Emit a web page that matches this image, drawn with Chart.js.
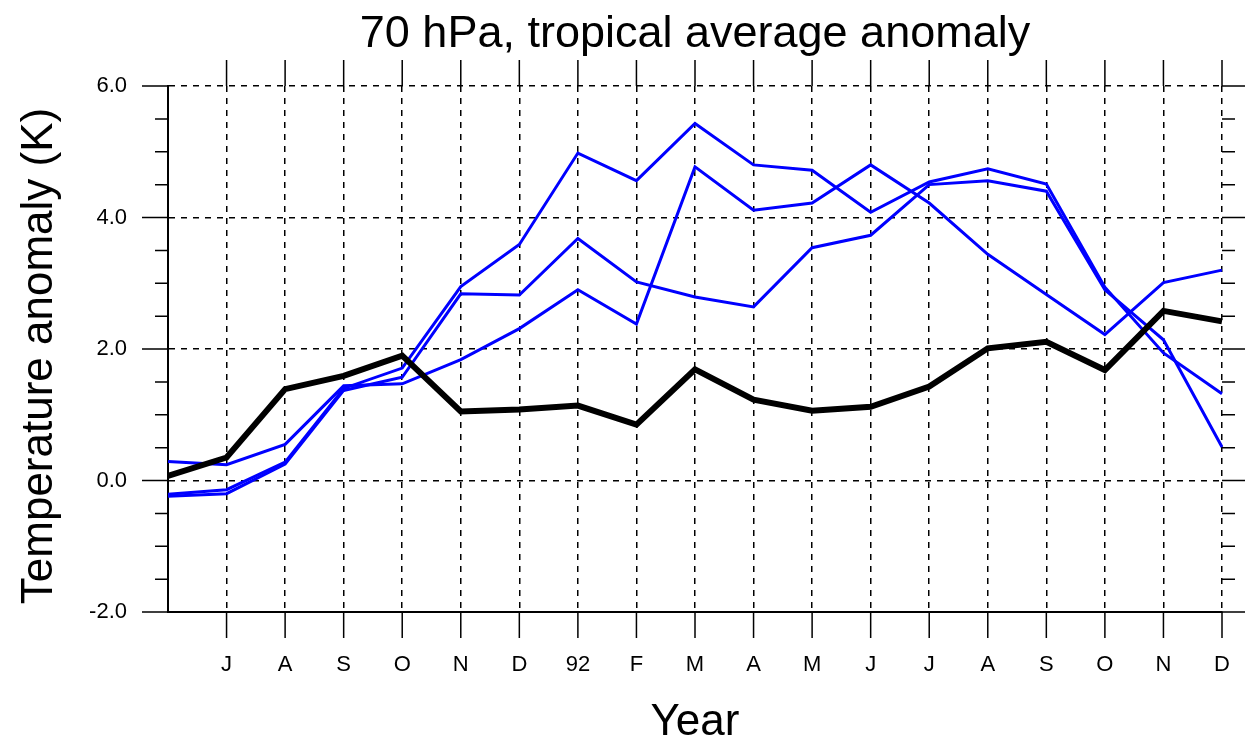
<!DOCTYPE html>
<html>
<head>
<meta charset="utf-8">
<script src="https://cdn.jsdelivr.net/npm/chart.js@4/dist/chart.umd.min.js"></script>
<style>
  html, body { margin: 0; padding: 0; background: #fff; }
  #wrap { width: 1245px; height: 742px; }
</style>
</head>
<body>
<div id="wrap"><canvas id="chart" width="1245" height="742"></canvas></div>
<script>
// May 1991 .. Dec 1992, first point has no label
const months = ['', 'J', 'A', 'S', 'O', 'N', 'D', '92', 'F', 'M', 'A', 'M', 'J', 'J', 'A', 'S', 'O', 'N', 'D'];

const observed = [0.07, 0.35, 1.39, 1.59, 1.90, 1.05, 1.08, 1.14, 0.85, 1.69, 1.23, 1.06, 1.12, 1.43, 2.01, 2.11, 1.68, 2.58, 2.42];
const runA = [-0.21, -0.14, 0.28, 1.40, 1.71, 2.95, 3.59, 4.98, 4.56, 5.43, 4.80, 4.72, 4.08, 4.54, 4.74, 4.51, 2.94, 1.94, 1.32];
const runB = [-0.24, -0.20, 0.25, 1.37, 1.57, 2.84, 2.82, 3.68, 3.02, 2.79, 2.64, 3.54, 3.73, 4.50, 4.56, 4.40, 2.90, 2.14, 0.51];
const runC = [0.29, 0.24, 0.55, 1.44, 1.47, 1.84, 2.31, 2.90, 2.38, 4.77, 4.11, 4.22, 4.80, 4.22, 3.44, 2.83, 2.22, 3.01, 3.20];

const yMin = -2;
const yMax = 6;
const yMajor = 2;
const yMinor = 0.5;

const FONT = '"Liberation Sans", Arial, Helvetica, sans-serif';

// outward tick marks on all four sides plus the titles
const frameDecor = {
    id: 'frameDecor',
    afterDraw(chart) {
        const {ctx, chartArea: a, scales: {x, y}} = chart;
        ctx.save();
        ctx.strokeStyle = '#000';
        ctx.lineWidth = 1.5;
        ctx.beginPath();
        for (let v = yMin; v <= yMax + 1e-9; v += yMinor) {
            const py = y.getPixelForValue(v);
            const major = Math.abs(v / yMajor - Math.round(v / yMajor)) < 1e-9;
            const len = major ? 26 : 13;
            ctx.moveTo(a.left - len, py);
            ctx.lineTo(a.left, py);
            ctx.moveTo(a.right, py);
            ctx.lineTo(a.right + len, py);
        }
        for (let i = 1; i < months.length; i++) {
            const px = x.getPixelForValue(i);
            ctx.moveTo(px, a.bottom);
            ctx.lineTo(px, a.bottom + 26);
            ctx.moveTo(px, a.top);
            ctx.lineTo(px, a.top - 26);
        }
        ctx.stroke();

        ctx.fillStyle = '#000';
        ctx.font = '45px ' + FONT;
        ctx.textAlign = 'center';
        ctx.textBaseline = 'alphabetic';
        const cx = (a.left + a.right) / 2;
        ctx.fillText('70 hPa, tropical average anomaly', cx, 47);
        ctx.font = '44px ' + FONT;
        ctx.fillText('Year', cx, 735);

        ctx.translate(52, 356);
        ctx.rotate(-Math.PI / 2);
        ctx.fillText('Temperature anomaly (K)', 0, 0);
        ctx.restore();
    }
};

function makeLine(data, color, width) {
    return {
        data: data,
        borderColor: color,
        backgroundColor: color,
        borderWidth: width,
        pointRadius: 0,
        tension: 0,
        fill: false
    };
}

const ctx = document.getElementById('chart');
new Chart(ctx, {
    type: 'line',
    data: {
        labels: months,
        datasets: [
            makeLine(observed, '#000000', 6),
            makeLine(runA, '#0000ff', 3),
            makeLine(runB, '#0000ff', 3),
            makeLine(runC, '#0000ff', 3)
        ]
    },
    options: {
        responsive: false,
        animation: false,
        layout: {
            padding: {top: 86, right: 23, left: 0, bottom: 0}
        },
        plugins: {
            legend: {display: false},
            tooltip: {enabled: false},
            title: {display: false}
        },
        scales: {
            x: {
                offset: false,
                afterFit: (s) => {
                    s.height = 130;
                    s.paddingLeft = 0;
                    s.paddingRight = 0;
                },
                grid: {
                    drawTicks: false,
                    color: '#000',
                    lineWidth: 1.5
                },
                border: {
                    display: true,
                    color: '#000',
                    width: 2,
                    dash: [6, 6]
                },
                ticks: {
                    autoSkip: false,
                    maxRotation: 0,
                    padding: 40,
                    color: '#000',
                    font: {family: FONT, size: 22}
                }
            },
            y: {
                min: yMin,
                max: yMax,
                afterFit: (s) => { s.width = 168; },
                grid: {
                    drawTicks: false,
                    color: '#000',
                    lineWidth: 1.5
                },
                border: {
                    display: true,
                    color: '#000',
                    width: 2,
                    dash: [6, 6]
                },
                ticks: {
                    stepSize: yMajor,
                    padding: 41,
                    color: '#000',
                    font: {family: FONT, size: 22},
                    callback: (v) => Number(v).toFixed(1)
                }
            }
        }
    },
    plugins: [frameDecor]
});
</script>
</body>
</html>
